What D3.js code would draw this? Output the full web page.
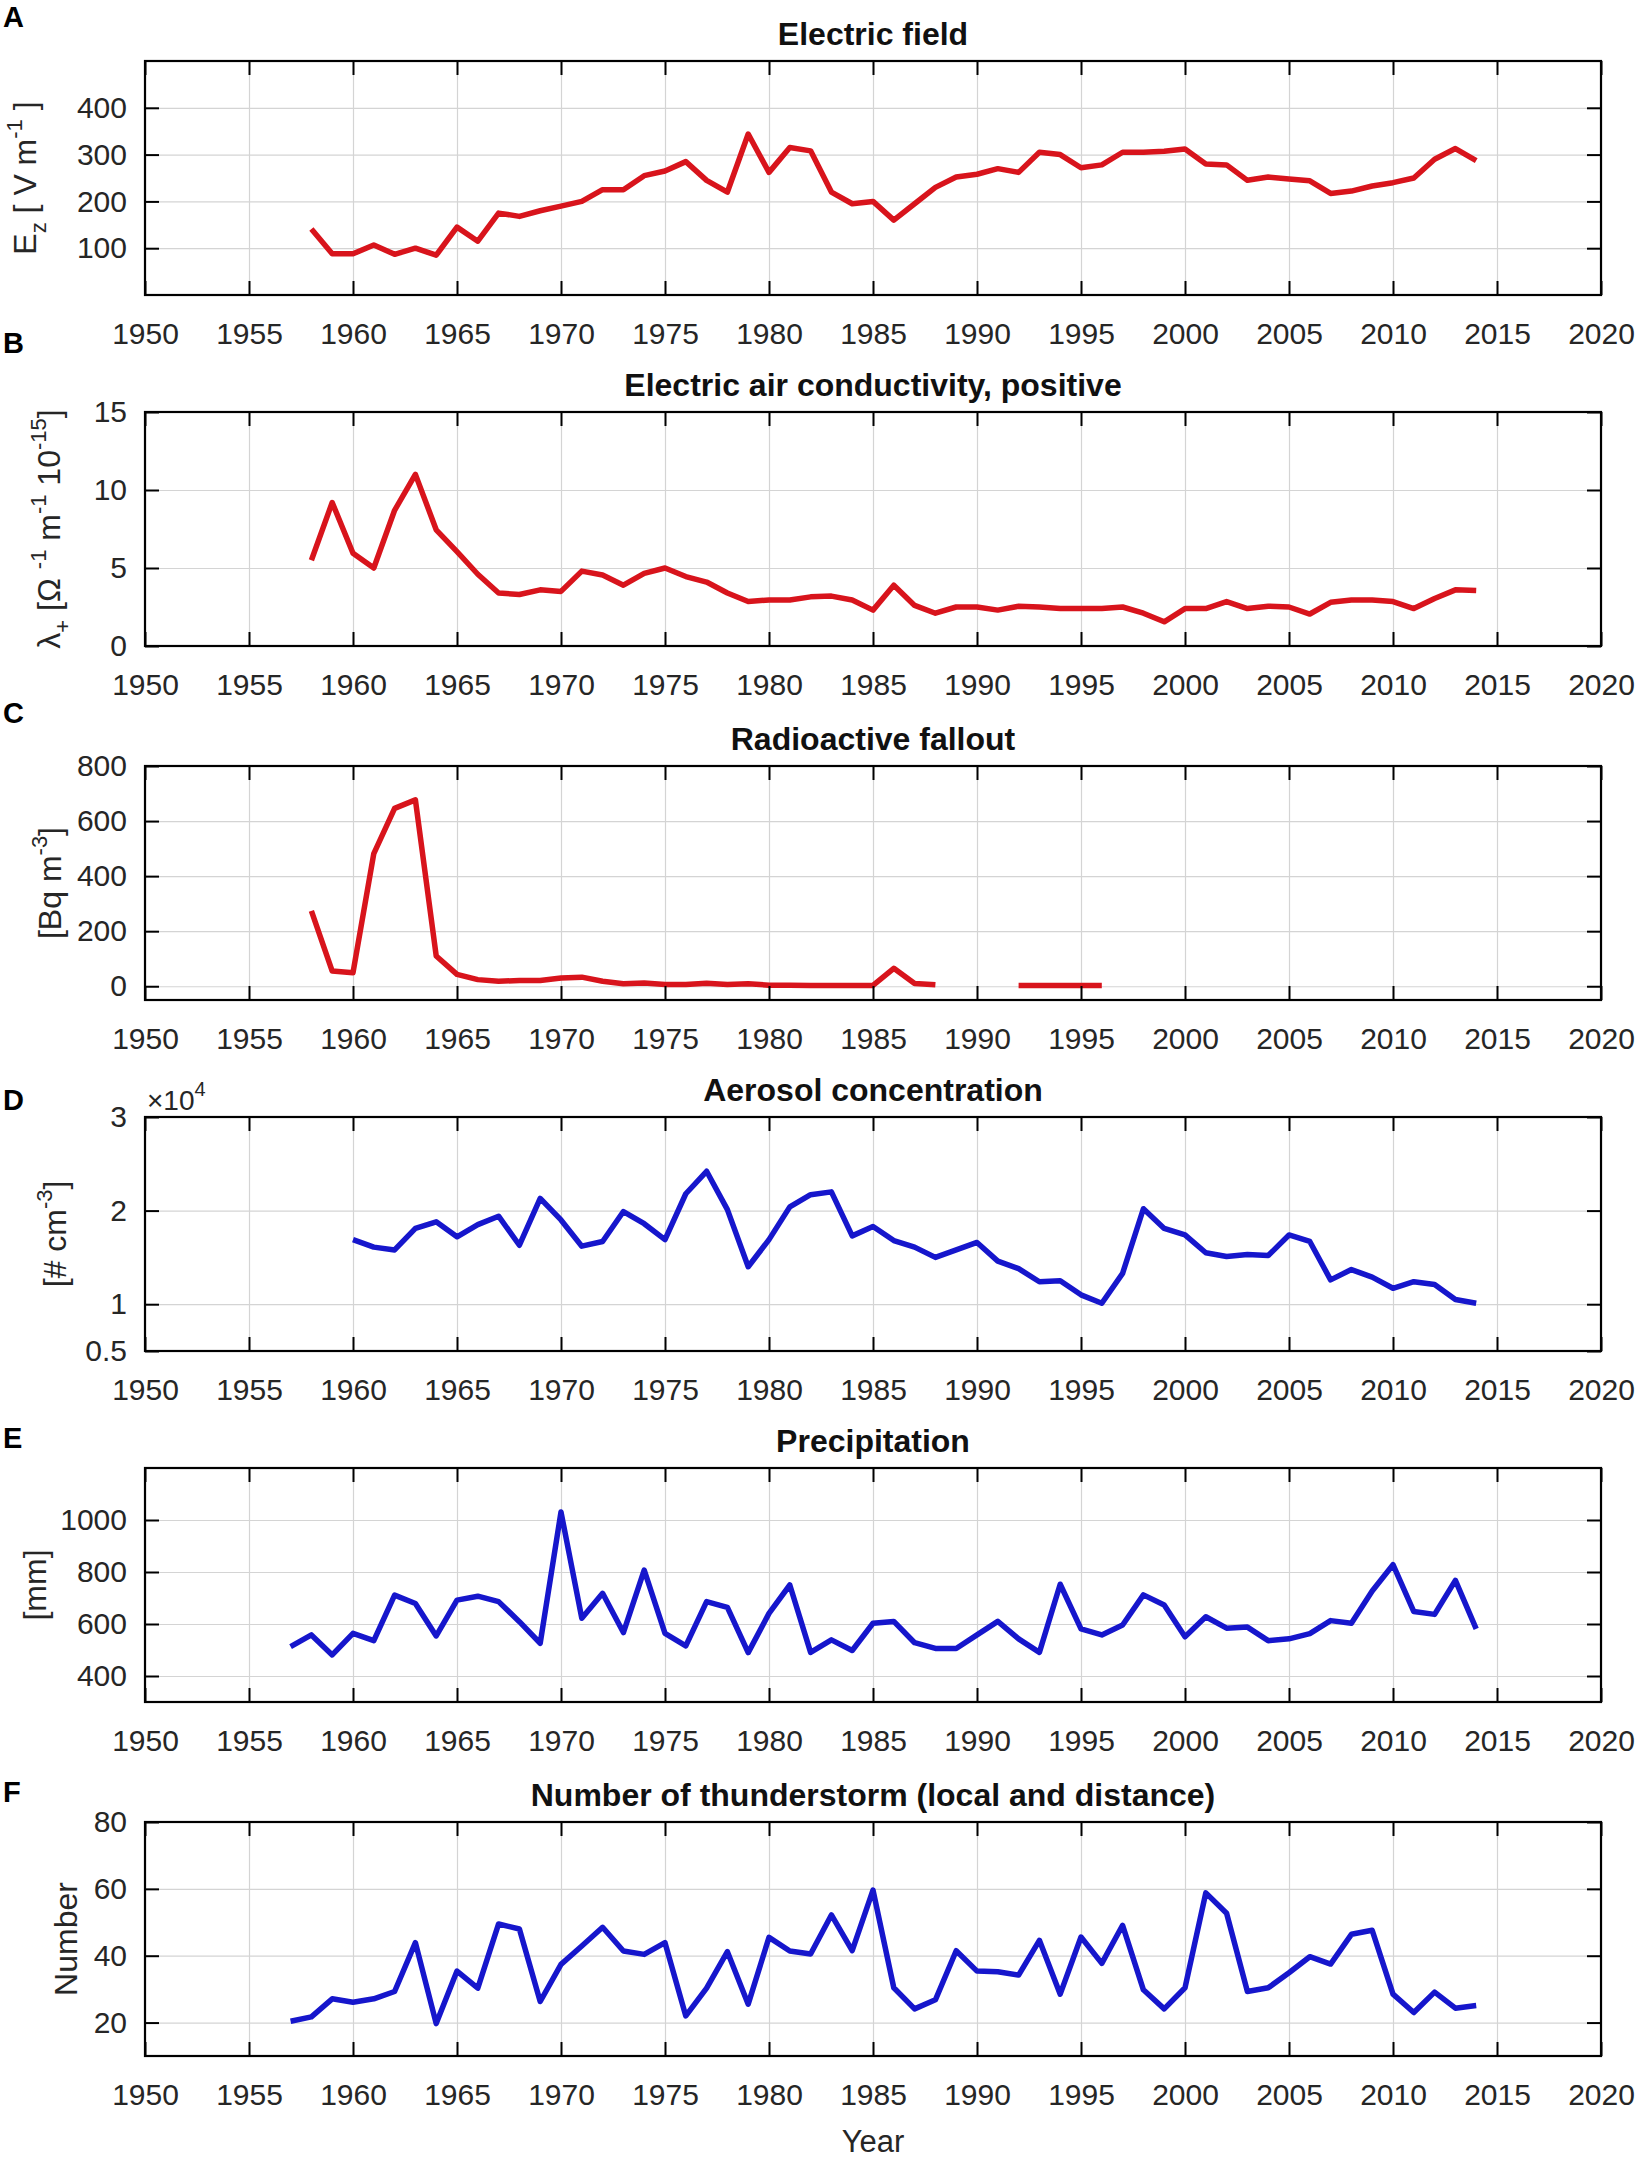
<!DOCTYPE html>
<html>
<head>
<meta charset="utf-8">
<script src="https://cdn.jsdelivr.net/npm/d3@7"></script>
<style>
    body { margin: 0; background: #fff; }
    svg { display: block; font-family: "Liberation Sans", Arial, sans-serif; }
    .grid line { stroke: #d4d4d4; stroke-width: 1.2; }
    .grid path { display: none; }
    .ax path { display: none; }
    .ax line { stroke: #000; stroke-width: 2; }
    .ax text { font-size: 30px; fill: #262626; }
</style>
</head>
<body>
<div id="chart"></div>
<script>
// x axis (shared by all panels)
const yearTicks = [1950, 1955, 1960, 1965, 1970, 1975, 1980, 1985, 1990, 1995, 2000, 2005, 2010, 2015, 2020];

// A: electric field, V/m, 1958-2014
const fieldStart = 1958;
const fieldValues = [141, 88, 88, 107, 87, 100, 85, 145, 115, 175, 168, 180, 190, 200, 225, 225, 255, 265, 285, 245,
    220, 344, 262, 315, 308, 220, 195, 200, 160, 195, 230, 252, 258, 270, 262, 305, 300, 272, 278, 305,
    305, 307, 312, 280, 278, 245, 252, 248, 244, 217, 222, 233, 240, 250, 290, 313, 287];
const fieldTicks = [100, 200, 300, 400];

// B: positive air conductivity, 1958-2014
const condStart = 1958;
const condValues = [5.5, 9.2, 5.95, 5.0, 8.7, 11.0, 7.45, 6.05, 4.6, 3.4, 3.3, 3.6, 3.5, 4.8, 4.55, 3.9, 4.65, 5.0, 4.45, 4.1,
    3.4, 2.85, 2.95, 2.95, 3.15, 3.2, 2.95, 2.3, 3.9, 2.6, 2.1, 2.5, 2.5, 2.3, 2.55, 2.5, 2.4, 2.4, 2.4, 2.5,
    2.1, 1.55, 2.4, 2.4, 2.85, 2.4, 2.55, 2.5, 2.05, 2.8, 2.95, 2.95, 2.85, 2.4, 3.05, 3.6, 3.55];
const condTicks = [0, 5, 10, 15];

// C: radioactive fallout, Bq/m3, 1958-1996 (no data 1989-1991)
const falloutStart = 1958;
const falloutValues = [274, 55, 49, 482, 646, 677, 110, 43, 24, 18, 21, 21, 30, 33, 18, 9, 12, 6, 6, 11,
    6, 9, 4, 4, 3, 3, 3, 3, 65, 10, 5, null, null, null, 3, 3, 3, 3, 3];
const falloutTicks = [0, 200, 400, 600, 800];

// D: aerosol concentration, x10^4 per cm3, 1960-2014
const aerosolStart = 1960;
const aerosolValues = [1.69, 1.61, 1.58, 1.81, 1.88, 1.72, 1.85, 1.94, 1.63, 2.13, 1.90, 1.62, 1.67, 1.99, 1.86, 1.69, 2.18, 2.42, 2.01, 1.40,
    1.69, 2.04, 2.17, 2.20, 1.73, 1.83, 1.68, 1.61, 1.50, 1.58, 1.66, 1.46, 1.38, 1.24, 1.25, 1.10, 1.01, 1.33, 2.02, 1.81,
    1.74, 1.55, 1.51, 1.53, 1.52, 1.74, 1.67, 1.26, 1.37, 1.29, 1.17, 1.24, 1.21, 1.05, 1.01];
const aerosolTicks = [0.5, 1, 2, 3];

// E: precipitation, mm, 1957-2014
const precipStart = 1957;
const precipValues = [513, 558, 481, 564, 536, 711, 679, 554, 692, 707, 686, 609, 526, 1031, 622, 718, 567, 807, 564, 516,
    686, 664, 490, 641, 750, 491, 539, 498, 603, 610, 528, 506, 506, 558, 610, 543, 491, 753, 581, 558,
    596, 712, 673, 551, 628, 584, 588, 536, 543, 563, 613, 603, 727, 828, 648, 637, 768, 581];
const precipTicks = [400, 600, 800, 1000];

// F: number of thunderstorms, 1957-2014
const stormStart = 1957;
const stormValues = [20.4, 21.7, 27.1, 26.1, 27.1, 29.3, 43.9, 19.7, 35.4, 30.3, 49.5, 48, 26.3, 37.4, 42.9, 48.5, 41.4, 40.4, 43.9, 22,
    30.3, 41.2, 25.5, 45.5, 41.4, 40.5, 52.2, 41.5, 59.6, 30.4, 24.1, 26.8, 41.5, 35.4, 35.2, 34.2, 44.6, 28.5, 45.6, 37.7,
    49.1, 29.8, 24.1, 30.4, 58.8, 52.7, 29.3, 30.4, 34.9, 39.7, 37.5, 46.4, 47.6, 28.5, 23, 29.1, 24.3, 25.1];
const stormTicks = [20, 40, 60, 80];

const red = "#d8141c";
const blue = "#1616cc";

// panel table built from the arrays above
const panels = [
    {letter: "A", title: "Electric field", start: fieldStart, values: fieldValues, domain: [0, 500], ticks: fieldTicks, color: red,
        ylabel: [["E", 0], ["z", 1], ["  [ V m", 0], ["-1", -1], [" ]", 0]]},
    {letter: "B", title: "Electric air conductivity, positive", start: condStart, values: condValues, domain: [0, 15], ticks: condTicks, color: red,
        ylabel: [["\u03bb", 0], ["+", 1], [" [\u03a9 ", 0], ["-1", -1], [" m", 0], ["-1", -1], [" 10", 0], ["-15", -1], ["]", 0]]},
    {letter: "C", title: "Radioactive fallout", start: falloutStart, values: falloutValues, domain: [-50, 800], ticks: falloutTicks, color: red,
        ylabel: [["[Bq m", 0], ["-3", -1], ["]", 0]]},
    {letter: "D", title: "Aerosol concentration", start: aerosolStart, values: aerosolValues, domain: [0.5, 3], ticks: aerosolTicks, color: blue,
        ylabel: [["[# cm", 0], ["-3", -1], ["]", 0]], exponent: true},
    {letter: "E", title: "Precipitation", start: precipStart, values: precipValues, domain: [300, 1200], ticks: precipTicks, color: blue,
        ylabel: [["[mm]", 0]]},
    {letter: "F", title: "Number of thunderstorm (local and distance)", start: stormStart, values: stormValues, domain: [10, 80], ticks: stormTicks, color: blue,
        ylabel: [["Number", 0]]}
];

// layout
const W = 1650, H = 2172;
const left = 145, right = 1601, plotH = 234;
const tops = [61, 412, 766, 1117, 1468, 1822];
const letterY = [27, 353, 723, 1110, 1448, 1802];
const ylabelX = [36, 60, 61, 66, 46, 77];

const svg = d3.select("#chart").append("svg")
    .attr("width", W)
    .attr("height", H);

svg.append("rect").attr("width", W).attr("height", H).attr("fill", "#fff");

const x = d3.scaleLinear().domain([1950, 2020]).range([left, right]);

panels.forEach((p, i) => {
    let top = tops[i];
    let y = d3.scaleLinear().domain(p.domain).range([top + plotH, top]);
    let g = svg.append("g");

    // grid
    g.append("g").attr("class", "grid")
        .attr("transform", `translate(0,${top + plotH})`)
        .call(d3.axisBottom(x).tickValues(yearTicks).tickSize(-plotH).tickFormat(""));
    g.append("g").attr("class", "grid")
        .attr("transform", `translate(${left},0)`)
        .call(d3.axisLeft(y).tickValues(p.ticks).tickSize(-(right - left)).tickFormat(""));

    // data line
    let pts = p.values.map((v, k) => ({year: p.start + k, v: v}));
    let line = d3.line()
        .defined(d => d.v !== null)
        .x(d => x(d.year))
        .y(d => y(d.v));
    g.append("path")
        .datum(pts)
        .attr("d", line)
        .attr("fill", "none")
        .attr("stroke", p.color)
        .attr("stroke-width", 5.5)
        .attr("stroke-linejoin", "round")
        .attr("stroke-linecap", "butt");

    // axes with inward ticks
    g.append("g").attr("class", "ax")
        .attr("transform", `translate(0,${top + plotH})`)
        .call(d3.axisBottom(x).tickValues(yearTicks).tickSizeInner(-14).tickSizeOuter(0).tickPadding(28).tickFormat(d3.format("d")));
    g.append("g").attr("class", "ax")
        .attr("transform", `translate(0,${top})`)
        .call(d3.axisTop(x).tickValues(yearTicks).tickSizeInner(-14).tickSizeOuter(0).tickFormat(""));
    g.append("g").attr("class", "ax")
        .attr("transform", `translate(${left},0)`)
        .call(d3.axisLeft(y).tickValues(p.ticks).tickSizeInner(-14).tickSizeOuter(0).tickPadding(18).tickFormat(d => String(d)));
    g.append("g").attr("class", "ax")
        .attr("transform", `translate(${right},0)`)
        .call(d3.axisRight(y).tickValues(p.ticks).tickSizeInner(-14).tickSizeOuter(0).tickFormat(""));

    // box
    g.append("rect")
        .attr("x", left).attr("y", top)
        .attr("width", right - left).attr("height", plotH)
        .attr("fill", "none").attr("stroke", "#000").attr("stroke-width", 2.2);

    // title
    g.append("text")
        .attr("x", (left + right) / 2)
        .attr("y", top - 16)
        .attr("text-anchor", "middle")
        .attr("font-size", 32)
        .attr("font-weight", "bold")
        .attr("fill", "#111")
        .text(p.title);

    // panel letter
    g.append("text")
        .attr("x", 3)
        .attr("y", letterY[i])
        .attr("font-size", 29)
        .attr("font-weight", "bold")
        .attr("fill", "#000")
        .text(p.letter);

    // y label, rotated, with sub/superscripts
    let lab = g.append("text")
        .attr("transform", `translate(${ylabelX[i]},${top + plotH / 2}) rotate(-90)`)
        .attr("text-anchor", "middle")
        .attr("font-size", 32)
        .attr("fill", "#262626");
    let shift = 0;
    p.ylabel.forEach(([s, kind]) => {
        let target = kind === 0 ? 0 : (kind > 0 ? 10 : -14);
        lab.append("tspan")
            .attr("dy", target - shift)
            .attr("font-size", kind === 0 ? 32 : 22)
            .text(s);
        shift = target;
    });

    // x10^4 multiplier for aerosol panel
    if (p.exponent) {
        let ex = g.append("text")
            .attr("x", left + 2)
            .attr("y", top - 7)
            .attr("font-size", 28)
            .attr("fill", "#262626");
        ex.append("tspan").text("\u00d710");
        ex.append("tspan").attr("dy", -14).attr("font-size", 20).text("4");
    }
});

// x label
svg.append("text")
    .attr("x", (left + right) / 2)
    .attr("y", 2152)
    .attr("text-anchor", "middle")
    .attr("font-size", 31)
    .attr("fill", "#262626")
    .text("Year");
</script>
</body>
</html>
